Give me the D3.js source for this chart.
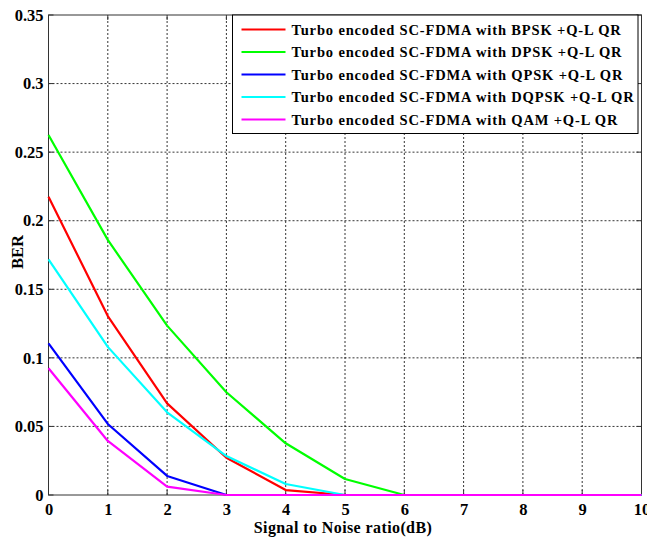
<!DOCTYPE html>
<html><head><meta charset="utf-8">
<script src="https://d3js.org/d3.v7.min.js"></script>
<style>body{margin:0;background:#fff}svg{display:block}</style>
</head><body>
<script>
const snr = [0,1,2,3,4,5,6,7,8,9,10];
const seriesNames = [
  "Turbo encoded SC-FDMA with BPSK +Q-L QR",
  "Turbo encoded SC-FDMA with DPSK +Q-L QR",
  "Turbo encoded SC-FDMA with QPSK +Q-L QR",
  "Turbo encoded SC-FDMA with DQPSK +Q-L QR",
  "Turbo encoded SC-FDMA with QAM +Q-L QR"
];
const seriesColors = ["#ff0000","#00ff00","#0000ff","#00ffff","#ff00ff"];
const berBPSK  = [0.2175,0.1305,0.0668,0.0272,0.0036,0,0,0,0,0,0];
const berDPSK  = [0.2625,0.186,0.1235,0.0749,0.0377,0.0117,0,0,0,0,0];
const berQPSK  = [0.1106,0.0518,0.0139,0,0,0,0,0,0,0,0];
const berDQPSK = [0.1718,0.108,0.0603,0.0284,0.008,0,0,0,0,0,0];
const berQAM   = [0.0924,0.0394,0.0061,0,0,0,0,0,0,0,0];
const series = [berBPSK, berDPSK, berQPSK, berDQPSK, berQAM];
const xTicks = [0,1,2,3,4,5,6,7,8,9,10];
const yTicks = [0,0.05,0.1,0.15,0.2,0.25,0.3,0.35];
const yTickLabels = ["0","0.05","0.1","0.15","0.2","0.25","0.3","0.35"];

const W = 647, H = 539;
const m = {left:48.5, right:5.5, top:15, bottom:44};
const svg = d3.select("body").append("svg").attr("width",W).attr("height",H);
const x = d3.scaleLinear().domain([0,10]).range([m.left, W-m.right]);
const y = d3.scaleLinear().domain([0,0.35]).range([H-m.bottom, m.top]);
const font = "'Liberation Serif','Times New Roman',serif";

// grid
const g = svg.append("g");
g.selectAll("line.vx").data(xTicks.slice(1,-1)).join("line")
  .attr("x1",d=>x(d)).attr("x2",d=>x(d)).attr("y1",y(0)).attr("y2",y(0.35))
  .attr("stroke","#000").attr("stroke-width",0.8).attr("stroke-dasharray","2,2");
g.selectAll("line.hy").data(yTicks.slice(1,-1)).join("line")
  .attr("y1",d=>y(d)).attr("y2",d=>y(d)).attr("x1",x(0)).attr("x2",x(10))
  .attr("stroke","#000").attr("stroke-width",0.8).attr("stroke-dasharray","2,2");

// box
svg.append("rect").attr("x",x(0)).attr("y",y(0.35)).attr("width",x(10)-x(0)).attr("height",y(0)-y(0.35))
  .attr("fill","none").attr("stroke","#333").attr("stroke-width",1);

// axes
const xAxis = svg.append("g").attr("transform",`translate(0,${y(0)})`)
  .call(d3.axisBottom(x).tickValues(xTicks).tickSize(0).tickPadding(8).tickFormat(d3.format("d")));
const yAxis = svg.append("g").attr("transform",`translate(${x(0)},0)`)
  .call(d3.axisLeft(y).tickValues(yTicks).tickSize(0).tickPadding(5).tickFormat((d,i)=>yTickLabels[i]));
[xAxis,yAxis].forEach(a=>{
  a.select(".domain").remove();
  a.selectAll("text").attr("font-family",font).attr("font-weight","bold").attr("font-size",16.5).attr("fill","#000");
});
// small inner tick marks
svg.append("g").selectAll("line").data(xTicks).join("line")
  .attr("x1",d=>x(d)).attr("x2",d=>x(d)).attr("y1",y(0)).attr("y2",y(0)-5).attr("stroke","#333");
svg.append("g").selectAll("line").data(xTicks).join("line")
  .attr("x1",d=>x(d)).attr("x2",d=>x(d)).attr("y1",y(0.35)).attr("y2",y(0.35)+5).attr("stroke","#333");
svg.append("g").selectAll("line").data(yTicks).join("line")
  .attr("y1",d=>y(d)).attr("y2",d=>y(d)).attr("x1",x(0)).attr("x2",x(0)+5).attr("stroke","#333");
svg.append("g").selectAll("line").data(yTicks).join("line")
  .attr("y1",d=>y(d)).attr("y2",d=>y(d)).attr("x1",x(10)).attr("x2",x(10)-5).attr("stroke","#333");

// labels
svg.append("text").attr("x",(x(0)+x(10))/2 - 2).attr("y",533).attr("text-anchor","middle")
  .attr("font-family",font).attr("font-weight","bold").attr("font-size",16).attr("letter-spacing",0.4)
  .text("Signal to Noise ratio(dB)");
svg.append("text").attr("transform",`translate(23,252) rotate(-90)`).attr("text-anchor","middle")
  .attr("font-family",font).attr("font-weight","bold").attr("font-size",16.5).text("BER");

// lines
const line = d3.line().x((d,i)=>x(snr[i])).y(d=>y(d));
svg.append("g").selectAll("path").data(series).join("path")
  .attr("d",line).attr("fill","none").attr("stroke",(d,i)=>seriesColors[i]).attr("stroke-width",2.2)
  .attr("stroke-linejoin","round");

// legend
const lg = svg.append("g");
lg.append("rect").attr("x",232.5).attr("y",15).attr("width",405.5).attr("height",118.5)
  .attr("fill","#fff").attr("stroke","#000").attr("stroke-width",1);
seriesNames.forEach((n,i)=>{
  const yy = 29.5 + i*22.5;
  lg.append("line").attr("x1",241.5).attr("x2",285.5).attr("y1",yy).attr("y2",yy)
    .attr("stroke",seriesColors[i]).attr("stroke-width",2.2);
  lg.append("text").attr("x",291.5).attr("y",yy+5).attr("font-family",font).attr("font-weight","bold")
    .attr("font-size",14.5).attr("letter-spacing",0.85)
    .attr("fill","#000").text(n);
});
</script>
</body></html>
